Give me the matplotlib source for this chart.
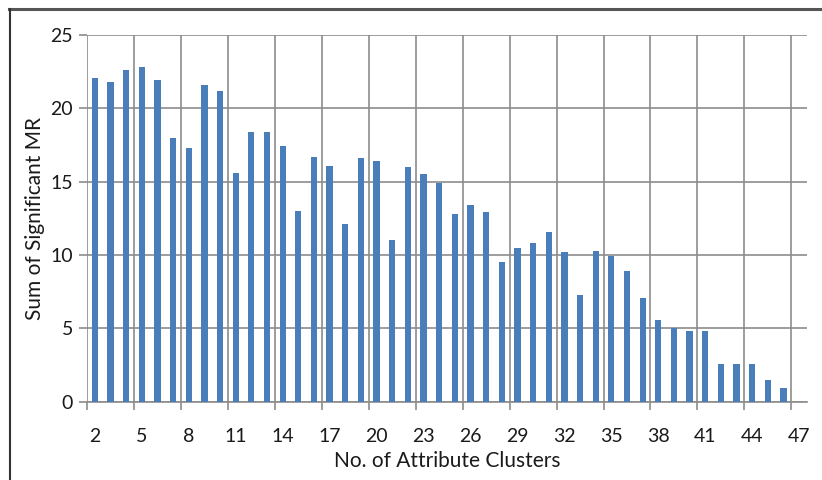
import numpy as np
import matplotlib.pyplot as plt
from matplotlib.lines import Line2D

# number of attribute clusters (47 has no bar)
clusters = list(range(2, 48))
sum_mr = [22.1, 21.8, 22.6, 22.8, 21.9, 18.0, 17.3, 21.6, 21.2, 15.6,
          18.4, 18.4, 17.4, 13.0, 16.7, 16.1, 12.1, 16.6, 16.4, 11.0,
          16.0, 15.5, 14.9, 12.8, 13.4, 12.9, 9.5, 10.5, 10.8, 11.6,
          10.2, 7.3, 10.3, 9.9, 8.9, 7.1, 5.6, 5.0, 4.8, 4.8,
          2.6, 2.6, 2.6, 1.5, 0.9, 0.0]
tick_labels = [str(c) for c in clusters[::3]]

plt.rcParams['font.family'] = ['Lato', 'DejaVu Sans']

fig = plt.figure(figsize=(8.22, 4.80), dpi=100)
ax = fig.add_axes([87/822, 78.3/480, 720/822, 366.7/480])

x = np.arange(len(clusters))
ax.bar(x, sum_mr, width=0.4, color='#4a7ebb', zorder=3)

ax.set_xlim(-0.5, len(clusters) - 0.5)
ax.set_ylim(0, 25)
ax.set_yticks([0, 5, 10, 15, 20, 25])

# labels sit under every third category, gridlines/ticks on the left boundary
ax.set_xticks(x[::3])
ax.set_xticklabels(tick_labels)
ax.tick_params(axis='x', length=0, pad=19, labelsize=14, labelcolor='#1a1a1a')
ax.set_xticks(x[::3] - 0.5, minor=True)
ax.tick_params(axis='x', which='minor', length=6, color='#8c8c8c', width=1.2)
ax.tick_params(axis='y', length=6, color='#8c8c8c', width=1.2, labelsize=14,
               pad=4, labelcolor='#1a1a1a')

ax.grid(True, axis='y', color='#8c8c8c', lw=1.2, zorder=0)
ax.grid(True, axis='x', which='minor', color='#8c8c8c', lw=1.2, zorder=0)
for s in ['top', 'right', 'left']:
    ax.spines[s].set_visible(False)
ax.spines['bottom'].set_color('#8c8c8c')
ax.spines['bottom'].set_linewidth(1.2)

ax.set_xlabel('No. of Attribute Clusters', fontsize=15, color='#1a1a1a')
ax.xaxis.set_label_coords(0.5, -0.135)
ax.set_ylabel('Sum of Significant MR', fontsize=15, color='#1a1a1a', va='center')
ax.yaxis.set_label_coords(-0.072, 0.5)

# outer frame (top and left edges)
fig.add_artist(Line2D([9/822, 1], [1 - 8.5/480, 1 - 8.5/480], color='#555555', lw=2.2))
fig.add_artist(Line2D([9.5/822, 9.5/822], [0, 1 - 8.5/480], color='#333333', lw=1.5))

fig.savefig('out.png', dpi=100)
